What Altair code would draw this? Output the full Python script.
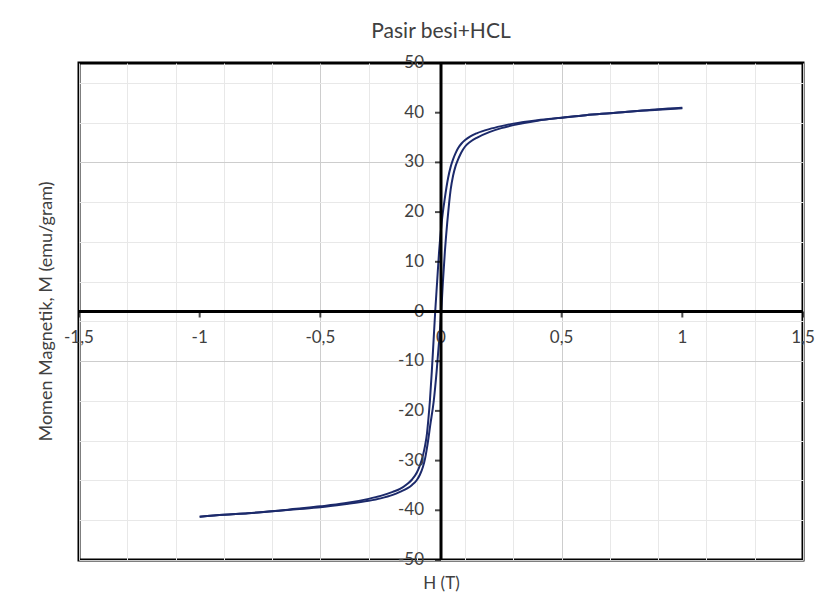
import altair as alt
import pandas as pd

# descending-field branch (H from +1 to -1)
H_down = [1.00, 0.90, 0.80, 0.70, 0.60, 0.50, 0.40, 0.30, 0.25, 0.20, 0.15, 0.12, 0.10, 0.085,
          0.07, 0.06, 0.05, 0.04, 0.03, 0.015, 0.003, -0.008, -0.016, -0.024, -0.031, -0.038,
          -0.046, -0.052, -0.058, -0.066, -0.075, -0.087, -0.10, -0.12, -0.14, -0.17, -0.20,
          -0.25, -0.30, -0.40, -0.50, -0.60, -0.70, -0.80, -0.90, -1.00]
M_down = [41.0, 40.7, 40.3, 39.9, 39.5, 39.0, 38.5, 37.8, 37.3, 36.7, 35.9, 35.2, 34.5, 33.8,
          32.8, 31.8, 30.6, 29.1, 27.0, 22.5, 18.0, 12.0, 6.0, 0.0, -6.0, -12.0,
          -18.0, -21.5, -24.5, -27.0, -29.0, -30.9, -32.4, -33.8, -34.7, -35.7, -36.3,
          -37.1, -37.7, -38.6, -39.2, -39.7, -40.2, -40.6, -40.9, -41.3]
# ascending-field branch (H from -1 to +1)
H_up = [-1.00, -0.90, -0.80, -0.70, -0.60, -0.50, -0.40, -0.30, -0.25, -0.20, -0.17, -0.14,
        -0.12, -0.10, -0.087, -0.075, -0.066, -0.06, -0.052, -0.045, -0.03, -0.018, -0.008,
        0.001, 0.008, 0.016, 0.026, 0.033, 0.04, 0.05, 0.06, 0.07, 0.08, 0.09, 0.10, 0.12,
        0.15, 0.20, 0.25, 0.30, 0.40, 0.50, 0.60, 0.70, 0.80, 0.90, 1.00]
M_up = [-41.3, -40.9, -40.6, -40.2, -39.8, -39.4, -38.8, -38.1, -37.6, -36.9, -36.3, -35.6,
        -34.9, -33.9, -32.8, -31.3, -29.6, -28.0, -25.5, -23.0, -18.0, -12.0, -6.0,
        0.0, 6.0, 12.0, 18.0, 21.5, 24.5, 27.3, 29.2, 30.5, 31.6, 32.5, 33.2, 34.1,
        35.0, 36.1, 36.9, 37.5, 38.4, 39.0, 39.5, 39.9, 40.3, 40.6, 40.9]

x_ticks = [-1.5, -1.0, -0.5, 0.0, 0.5, 1.0, 1.5]
x_tick_labels = ["-1,5", "-1", "-0,5", "0", "0,5", "1", "1,5"]
y_ticks = [-50, -40, -30, -20, -10, 0, 10, 20, 30, 40, 50]
y_tick_labels = ["-50", "-40", "-30", "-20", "-10", "0", "10", "20", "30", "40", "50"]

x_grid = [round(-1.5 + 0.1 * i, 1) for i in range(31)]
y_grid = [-50 + 2 * i for i in range(51)]

FONT = "Lato"
TXT = "#404040"

rows = []
for i, (h, m) in enumerate(zip(H_down, M_down)):
    rows.append({"H": h, "M": m, "branch": "down", "idx": i})
for i, (h, m) in enumerate(zip(H_up, M_up)):
    rows.append({"H": h, "M": m, "branch": "up", "idx": i})
df = pd.DataFrame(rows)

xscale = alt.Scale(domain=[-1.5, 1.5], nice=False, zero=False)
yscale = alt.Scale(domain=[-50, 50], nice=False, zero=False)

xaxis = alt.Axis(
    values=x_grid, labels=False, ticks=False, domain=False, grid=True,
    gridColor={"condition": {"test": "abs(datum.value*2 - round(datum.value*2)) < 0.001",
                             "value": "#cdcdcd"}, "value": "#e8e8e8"},
    gridWidth=1,
    title="H (T)", titleFont=FONT, titleFontSize=17, titleFontWeight="normal",
    titleColor=TXT, titleX=362, titleY=23, titleBaseline="middle", titleAlign="center",
)
yaxis = alt.Axis(
    values=y_grid, labels=False, ticks=False, domain=False, grid=True,
    gridColor={"condition": {"test": "abs(datum.value/10 - round(datum.value/10)) < 0.001",
                             "value": "#cdcdcd"}, "value": "#e8e8e8"},
    gridWidth=1,
    title="Momen Magnetik, M (emu/gram)", titleFont=FONT, titleFontSize=18,
    titleFontWeight="normal", titleColor=TXT, titleX=-33, titleY=248,
    titleAngle=-90, titleBaseline="middle", titleAlign="center",
)

base = alt.Chart(df)

curve = base.mark_line(color="#1c2a6b", strokeWidth=2, interpolate="monotone").encode(
    x=alt.X("H:Q", scale=xscale, axis=xaxis),
    y=alt.Y("M:Q", scale=yscale, axis=yaxis),
    detail="branch:N",
    order="idx:Q",
)

vline = alt.Chart(pd.DataFrame({"v": [0]})).mark_rule(color="black", strokeWidth=3).encode(
    x=alt.X("v:Q", scale=xscale)
)
hline = alt.Chart(pd.DataFrame({"v": [0]})).mark_rule(color="black", strokeWidth=3).encode(
    y=alt.Y("v:Q", scale=yscale)
)

xlab_df = pd.DataFrame({"H": x_ticks, "lab": x_tick_labels, "z": [0] * len(x_ticks)})
ylab_df = pd.DataFrame({"M": y_ticks, "lab": y_tick_labels, "z": [0] * len(y_ticks)})

xticks = alt.Chart(xlab_df).mark_tick(color="black", thickness=2, size=6, yOffset=3,
                                      orient="vertical").encode(
    x=alt.X("H:Q", scale=xscale), y=alt.Y("z:Q", scale=yscale)
)
yticks = alt.Chart(ylab_df).mark_tick(color="black", thickness=2, size=6, xOffset=-3,
                                      orient="horizontal").encode(
    x=alt.X("z:Q", scale=xscale), y=alt.Y("M:Q", scale=yscale)
)

xlabels = alt.Chart(xlab_df).mark_text(font=FONT, fontSize=17, color=TXT, dy=26,
                                       align="center", baseline="middle").encode(
    x=alt.X("H:Q", scale=xscale), y=alt.Y("z:Q", scale=yscale), text="lab:N"
)
ylabels = alt.Chart(ylab_df).mark_text(font=FONT, fontSize=17, color=TXT, dx=-17,
                                       align="right", baseline="middle").encode(
    x=alt.X("z:Q", scale=xscale), y=alt.Y("M:Q", scale=yscale), text="lab:N"
)

chart = alt.layer(
    curve, xlabels, ylabels, vline, hline, xticks, yticks
).properties(
    width=724,
    height=497,
    autosize=alt.AutoSizeParams(type="none"),
    padding={"left": 71, "top": 55, "right": 12, "bottom": 34},
    background="white",
    title=alt.TitleParams("Pasir besi+HCL", font=FONT, fontSize=21, fontWeight="normal",
                          color=TXT, offset=12, anchor="middle"),
).configure_view(stroke="black", strokeWidth=3)

chart.save("out.html", embed_options={"renderer": "svg", "actions": False})
